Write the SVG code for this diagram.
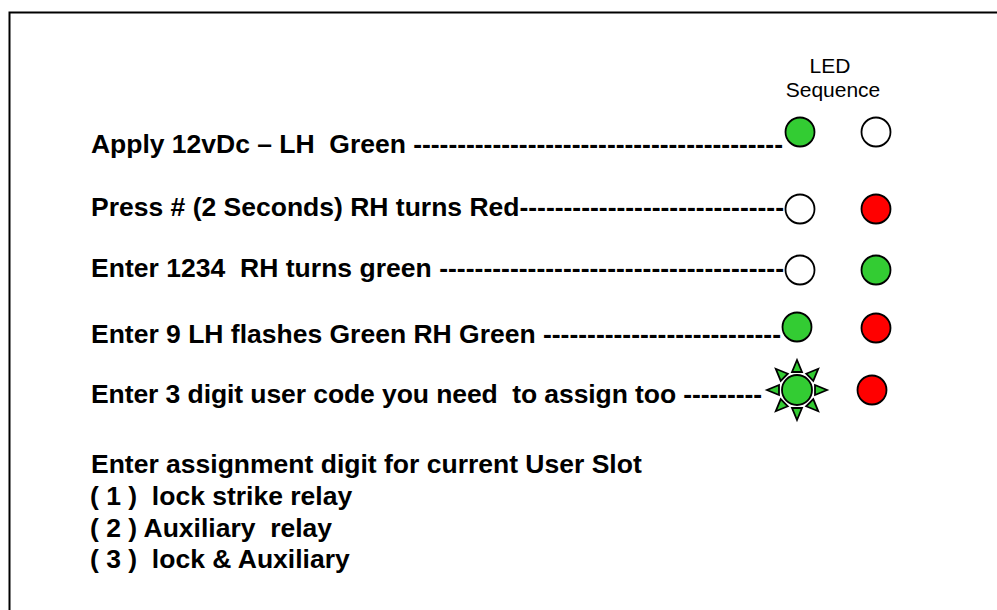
<svg xmlns="http://www.w3.org/2000/svg" width="997" height="610" viewBox="0 0 997 610">
<style>
.t{font-family:"Liberation Sans",Arial,sans-serif;font-weight:bold;font-size:26.5px;fill:#000;white-space:pre}
.h{font-family:"Liberation Sans",Arial,sans-serif;font-size:21px;fill:#000;text-anchor:middle}
.led{stroke:#000;stroke-width:1.8}
.g{fill:#33cc33}
.r{fill:#ff0000}
.w{fill:#fff}
</style>
<rect width="997" height="610" fill="#fff"/>
<rect x="9.5" y="12.5" width="1000" height="620" fill="none" stroke="#000" stroke-width="2"/>
<g id="header">
<text class="h" x="830" y="72.5">LED</text>
<text class="h" x="833" y="96.5">Sequence</text>
</g>
<g id="row1">
<text class="t" x="91" y="153" textLength="692" lengthAdjust="spacing">Apply 12vDc – LH  Green ------------------------------------------</text>
<circle class="led g" cx="800" cy="132" r="14.5"/>
<circle class="led w" cx="876" cy="132" r="14.5"/>
</g>
<g id="row2">
<text class="t" x="91" y="216" textLength="693" lengthAdjust="spacing">Press # (2 Seconds) RH turns Red------------------------------</text>
<circle class="led w" cx="800" cy="209" r="14.5"/>
<circle class="led r" cx="876" cy="209" r="14.5"/>
</g>
<g id="row3">
<text class="t" x="91" y="277" textLength="693" lengthAdjust="spacing">Enter 1234  RH turns green ---------------------------------------</text>
<circle class="led w" cx="800" cy="270" r="14.5"/>
<circle class="led g" cx="876" cy="270" r="14.5"/>
</g>
<g id="row4">
<text class="t" x="91" y="343" textLength="690" lengthAdjust="spacing">Enter 9 LH flashes Green RH Green ---------------------------</text>
<circle class="led g" cx="797" cy="327" r="14.5"/>
<circle class="led r" cx="876" cy="328" r="14.5"/>
</g>
<g id="row5">
<text class="t" x="91" y="403" textLength="671" lengthAdjust="spacing">Enter 3 digit user code you need  to assign too ---------</text>
<g transform="translate(797,390)" class="led g">
<polygon id="ray" points="-5,-18 5,-18 0,-30"/>
<use href="#ray" transform="rotate(45)"/>
<use href="#ray" transform="rotate(90)"/>
<use href="#ray" transform="rotate(135)"/>
<use href="#ray" transform="rotate(180)"/>
<use href="#ray" transform="rotate(225)"/>
<use href="#ray" transform="rotate(270)"/>
<use href="#ray" transform="rotate(315)"/>
<circle cx="0" cy="0" r="15"/>
</g>
<circle class="led r" cx="872" cy="390" r="14.5"/>
</g>
<g id="assign">
<text class="t" x="91" y="473">Enter assignment digit for current User Slot</text>
<text class="t" x="90" y="505">( 1 )  lock strike relay</text>
<text class="t" x="90" y="537">( 2 ) Auxiliary  relay</text>
<text class="t" x="90" y="568">( 3 )  lock &amp; Auxiliary</text>
</g>
<g id="connectors"/>
</svg>
